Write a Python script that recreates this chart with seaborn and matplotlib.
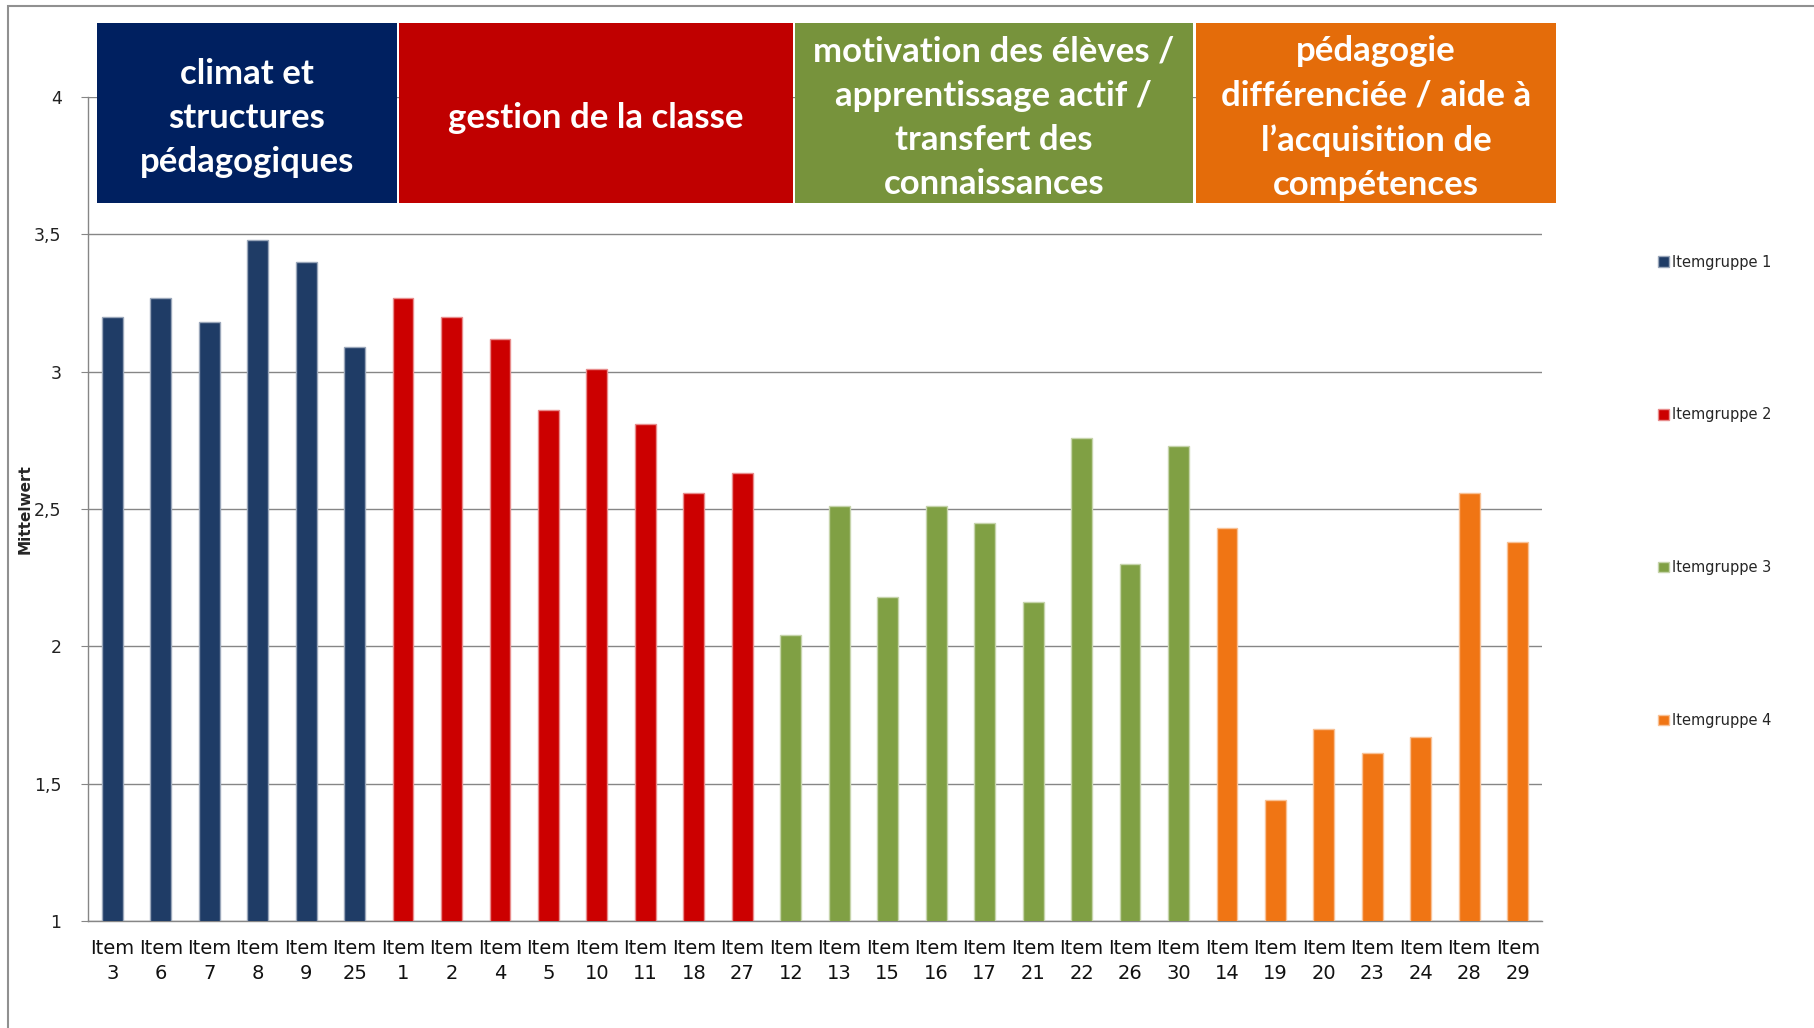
import pandas as pd
import matplotlib.pyplot as plt
import matplotlib.colors as mcolors
from matplotlib.patches import Rectangle, Patch
import seaborn as sns

# Itemgruppen: items, Mittelwerte
items = ["3", "6", "7", "8", "9", "25",
         "1", "2", "4", "5", "10", "11", "18", "27",
         "12", "13", "15", "16", "17", "21", "22", "26", "30",
         "14", "19", "20", "23", "24", "28", "29"]
values = [3.20, 3.27, 3.18, 3.48, 3.40, 3.09,
          3.27, 3.20, 3.12, 2.86, 3.01, 2.81, 2.56, 2.63,
          2.04, 2.51, 2.18, 2.51, 2.45, 2.16, 2.76, 2.30, 2.73,
          2.43, 1.44, 1.70, 1.61, 1.67, 2.56, 2.38]
groups = (["Itemgruppe 1"] * 6 + ["Itemgruppe 2"] * 8
          + ["Itemgruppe 3"] * 9 + ["Itemgruppe 4"] * 7)
group_names = ["Itemgruppe 1", "Itemgruppe 2", "Itemgruppe 3", "Itemgruppe 4"]
headers = ["climat et\nstructures\npédagogiques",
           "gestion de la classe",
           "motivation des élèves /\napprentissage actif /\ntransfert des\nconnaissances",
           "pédagogie\ndifférenciée / aide à\nl\u2019acquisition de\ncompétences"]
y_ticks = [1, 1.5, 2, 2.5, 3, 3.5, 4]
y_labels = ["1", "1,5", "2", "2,5", "3", "3,5", "4"]

bar_colors = ["#1F3C66", "#CC0000", "#80A044", "#F07514"]
header_colors = ["#002060", "#C00000", "#77933C", "#E46C0A"]

df = pd.DataFrame({"item": ["Item\n" + i for i in items],
                   "mittelwert": values,
                   "gruppe": groups})

sns.set_style("white")
plt.rcParams["font.family"] = ["DejaVu Sans"]

W, H = 1815, 1028
fig = plt.figure(figsize=(W / 100, H / 100), dpi=100)
ax = fig.add_axes([88 / W, 1 - 921 / H, (1542 - 88) / W, (921 - 97) / H])

sns.barplot(data=df, x="item", y="mittelwert", hue="gruppe",
            hue_order=group_names, palette=bar_colors, dodge=False,
            width=0.43, saturation=1, ax=ax, legend=False, zorder=3)


def lighten(c, amt=0.55):
    rgb = mcolors.to_rgb(c)
    return tuple(v + (1 - v) * amt for v in rgb)


# light border around bars like the original
for p in ax.patches:
    p.set_edgecolor(lighten(p.get_facecolor()))
    p.set_linewidth(1.0)

ax.set_xlim(-0.5, len(items) - 0.5)
ax.set_ylim(1, 4)
ax.set_yticks(y_ticks)
ax.set_yticklabels(y_labels)
ax.set_xlabel("")
ax.set_ylabel("")
ax.yaxis.grid(True, color="#868686", linewidth=1.0, zorder=0)
ax.set_axisbelow(True)
for s in ["top", "right"]:
    ax.spines[s].set_visible(False)
for s in ["left", "bottom"]:
    ax.spines[s].set_color("#868686")
    ax.spines[s].set_linewidth(1.0)
ax.tick_params(axis="y", length=5, color="#868686", pad=14, labelsize=12.5,
               labelcolor="#222222", left=True)
ax.tick_params(axis="x", length=0, pad=13, labelsize=14, labelcolor="#111111")
for lbl in ax.get_xticklabels():
    lbl.set_linespacing(1.4)

fig.text(25 / W, 1 - 509 / H, "Mittelwert", rotation=90, ha="center",
         va="center", fontsize=11, fontweight="bold")

# header boxes
box_x = [(97, 397), (399, 793), (795, 1193), (1196, 1556)]
top, bottom = 23, 203
for (x0, x1), col, txt in zip(box_x, header_colors, headers):
    fig.patches.append(Rectangle((x0 / W, 1 - bottom / H), (x1 - x0) / W,
                                 (bottom - top) / H, transform=fig.transFigure,
                                 facecolor=col, edgecolor="none", zorder=5))
    fig.text((x0 + x1) / 2 / W, 1 - 118 / H, txt,
             ha="center", va="center", color="white", fontsize=25,
             fontweight="bold", family=["Lato", "DejaVu Sans"],
             linespacing=1.47, zorder=6)

# outer frame
fig.patches.append(Rectangle((8 / W, -0.05), 1.1, 1 - 6 / H + 0.05,
                             transform=fig.transFigure, facecolor="none",
                             edgecolor="#909090", linewidth=1.5, zorder=1))

handles = [Patch(facecolor=c, edgecolor=lighten(c)) for c in bar_colors]
fig.legend(handles, group_names, loc="upper left",
           bbox_to_anchor=(1658 / W, 1 - 254.5 / H), frameon=False,
           fontsize=10.5, labelspacing=9.45, handlelength=0.75,
           handleheight=0.75, handletextpad=0.2, borderpad=0, borderaxespad=0)

fig.savefig("out.png", dpi=100)
